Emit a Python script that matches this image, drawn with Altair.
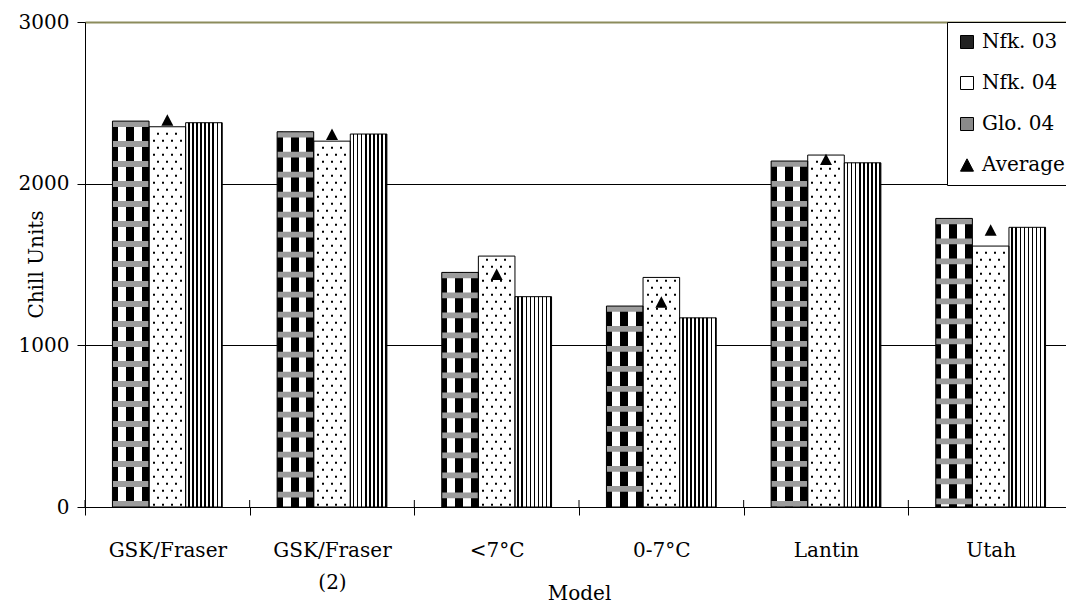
import altair as alt
import pandas as pd

# ---- data -------------------------------------------------------------
models = ["GSK/Fraser", "GSK/Fraser (2)", "<7°C", "0-7°C", "Lantin", "Utah"]
series = ["Nfk. 03", "Nfk. 04", "Glo. 04"]
nfk03 = [2387, 2321, 1451, 1243, 2140, 1785]
nfk04 = [2352, 2263, 1552, 1420, 2177, 1614]
glo04 = [2377, 2307, 1301, 1170, 2129, 1730]
average = [2394, 2306, 1440, 1268, 2150, 1713]
y_ticks = [0, 1000, 2000, 3000]

FONT = "DejaVu Serif"

bars = pd.DataFrame({
    "model": models * 3,
    "series": [s for s in series for _ in models],
    "value": nfk03 + nfk04 + glo04,
})
avg_df = pd.DataFrame({"model": models, "value": average})
model_df = pd.DataFrame({"model": models})
legend_df = pd.DataFrame({"series": series + ["Average"]})


# ---- hatch-like fills built from hard-stop linear gradients -----------
def hard_stops(segments):
    stops = []
    for a, b, c in segments:
        stops.append({"offset": a, "color": c})
        stops.append({"offset": b, "color": c})
    return {"gradient": "linear", "x1": 0, "y1": 0, "x2": 1, "y2": 0, "stops": stops}


def dotted(centers, width=36.6, dot=2.0):
    segs, pos = [], 0.0
    for c in centers:
        a, b = (c - dot / 2) / width, (c + dot / 2) / width
        segs.append((pos, a, "white"))
        segs.append((a, b, "black"))
        pos = b
    segs.append((pos, 1.0, "white"))
    return hard_stops(segs)


checker = hard_stops([(0, 0.15, "black"), (0.15, 0.37, "white"), (0.37, 0.59, "black"),
                      (0.59, 0.80, "white"), (0.80, 1.0, "black")])
stripe_segs = []
for k in range(9):
    stripe_segs.append((k / 9, (k + 0.6) / 9, "white"))
    stripe_segs.append(((k + 0.6) / 9, (k + 1) / 9, "black"))
stripes = hard_stops(stripe_segs)
dots_even = dotted([4.5, 13.5, 22.5, 31.5])
dots_odd = dotted([9.0, 18.0, 27.0])

# triangle marker centred on its bounding box
TRIANGLE = "M0,-0.95L1,0.95L-1,0.95Z"

# ---- scales & axes ----------------------------------------------------
xs = alt.Scale(domain=models, range=[0, 988], paddingInner=0, paddingOuter=0)
ys = alt.Scale(domain=[0, 3000], nice=False, zero=True)
xos = alt.Scale(domain=series, paddingInner=0, paddingOuter=0.75)

x_axis = alt.Axis(
    title="Model", labelAngle=0, labelExpr="split(datum.label, ' ')",
    labelLineHeight=32, labelPadding=25, labelFontSize=20, labelOverlap=False,
    labelBound=False, tickSize=8, tickBand="extent", grid=False,
    titleFontSize=20, titleFontWeight="normal", titleX=494, titleY=76,
    titleBaseline="top",
)
y_axis = alt.Axis(
    title="Chill Units", values=y_ticks, format="d", labelFontSize=20, labelPadding=8,
    tickSize=8, grid=True,
    gridColor={"condition": {"test": "datum.value === 3000", "value": "#8c8c5c"}, "value": "black"},
    gridWidth={"condition": {"test": "datum.value === 3000", "value": 2}, "value": 1},
    titleFontSize=20, titleFontWeight="normal", titleX=-49, titleY=242,
    titleAlign="center", titleBaseline="middle",
)

X = alt.X("model:N", scale=xs, axis=x_axis, sort=models)
XO = alt.XOffset("series:N", scale=xos, sort=series)
Y = alt.Y("value:Q", scale=ys, axis=y_axis)

base = alt.Chart(bars)

fill03 = base.transform_filter(alt.datum.series == "Nfk. 03").mark_bar(fill=checker).encode(x=X, xOffset=XO, y=Y)
fill04 = base.transform_filter(alt.datum.series == "Nfk. 04").mark_bar(fill="white").encode(x=X, xOffset=XO, y=Y)
fillg = base.transform_filter(alt.datum.series == "Glo. 04").mark_bar(fill=stripes).encode(x=X, xOffset=XO, y=Y)

# grey weave bands across the Nfk. 03 bars, counted down from each bar's top
bands = (
    base.transform_filter(alt.datum.series == "Nfk. 03")
    .transform_calculate(c="sequence(datum.value - 18, 0, -123.7)")
    .transform_flatten(["c"])
    .transform_calculate(lo="max(datum.c - 18, 0)", hi="datum.c + 18")
    .mark_bar(fill="#9c9c9c")
    .encode(x=X, xOffset=XO, y=alt.Y("lo:Q", scale=ys, axis=y_axis), y2="hi:Q")
)


def dot_rows(start, grad):
    return (
        base.transform_filter(alt.datum.series == "Nfk. 04")
        .transform_calculate(r=f"sequence({start}, datum.value - 14, 86.6)")
        .transform_flatten(["r"])
        .transform_calculate(r2="datum.r + 12.4")
        .mark_bar(fill=grad)
        .encode(x=X, xOffset=XO, y=alt.Y("r:Q", scale=ys, axis=y_axis), y2="r2:Q")
    )


rows_even = dot_rows(8, dots_even)
rows_odd = dot_rows(51.3, dots_odd)

outline = base.mark_bar(fillOpacity=0, stroke="black", strokeWidth=1).encode(x=X, xOffset=XO, y=Y)

# category-boundary ticks continue a little above the category axis
cross_ticks = alt.Chart(model_df).mark_rule(color="black", strokeWidth=1).encode(
    x=alt.X("model:N", scale=xs, axis=x_axis, sort=models, bandPosition=0),
    y=alt.value(478), y2=alt.value(485),
)

tri = alt.Chart(avg_df).mark_point(shape=TRIANGLE, filled=True, fill="black",
                                   size=144, opacity=1).encode(x=X, y=Y)

legend_names = series + ["Average"]
leg = alt.Legend(
    title=None, orient="none", legendX=862, legendY=0, padding=10, rowPadding=21,
    symbolSize=169, labelOffset=5, labelFontSize=20, labelFont=FONT, labelColor="black",
    strokeColor="black", fillColor="white", symbolStrokeWidth=1, symbolOpacity=1,
)
legend_layer = alt.Chart(legend_df).mark_point(
    filled=True, size=169, opacity=1, strokeWidth=1
).encode(
    x=alt.value(-400), y=alt.value(-400),
    color=alt.Color("series:N", scale=alt.Scale(domain=legend_names,
                                                range=["#222222", "white", "#8a8a8a", "black"]),
                    legend=leg),
    stroke=alt.Stroke("series:N", scale=alt.Scale(domain=legend_names,
                                                  range=["black", "black", "black", "black"]),
                      legend=leg),
    shape=alt.Shape("series:N", scale=alt.Scale(domain=legend_names,
                                                range=["square", "square", "square", TRIANGLE]),
                    legend=leg),
)

chart = (
    alt.layer(fill03, fill04, fillg, bands, rows_even, rows_odd, outline, cross_ticks, tri,
              legend_layer)
    .properties(width=981, height=485, autosize=alt.AutoSizeParams(type="none"),
                padding={"left": 85, "top": 22, "right": 0, "bottom": 98})
    .configure(font=FONT, background="white")
    .configure_view(strokeWidth=0)
    .configure_axis(labelColor="black", titleColor="black", domainColor="black",
                    tickColor="black", labelFont=FONT, titleFont=FONT)
)

chart.save("out.html", embed_options={"renderer": "svg", "actions": False})
